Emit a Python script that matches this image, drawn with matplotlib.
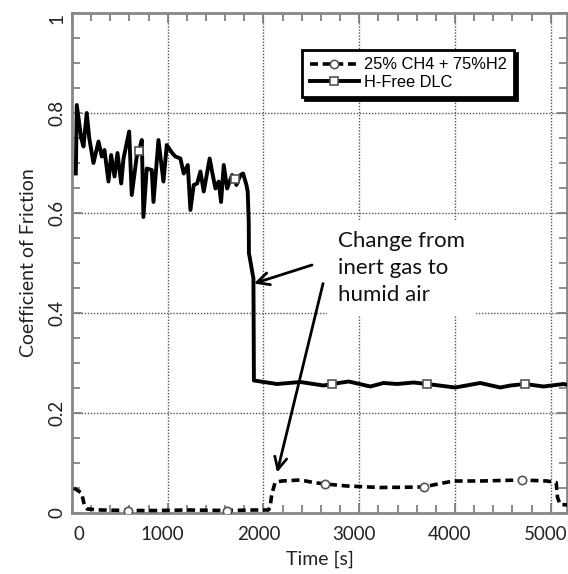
import matplotlib.pyplot as plt
import matplotlib.transforms as mtransforms
from matplotlib.ticker import MultipleLocator

# H-Free DLC (solid line, square markers)
dlc_t = [40, 50, 96, 120, 154, 180, 224, 277, 311, 339, 381, 409, 444, 475,
         514, 538, 597, 624, 676, 700, 729, 746, 781, 833, 851, 903, 955, 990,
         1046, 1080, 1132, 1167, 1209, 1237, 1271, 1307, 1341, 1376, 1438,
         1463, 1498, 1532, 1557, 1585, 1620, 1672, 1700, 1717, 1759, 1787,
         1822, 1835, 1846, 1848, 1895, 1900, 2142, 2385, 2625, 2716, 2890,
         3116, 3254, 3395, 3568, 3707, 4003, 4264, 4473, 4580, 4734, 4925,
         5134, 5180]
dlc_cof = [0.679, 0.816, 0.750, 0.733, 0.800, 0.750, 0.700, 0.743, 0.713,
           0.726, 0.663, 0.716, 0.673, 0.720, 0.659, 0.709, 0.763, 0.636,
           0.713, 0.725, 0.746, 0.592, 0.689, 0.686, 0.622, 0.746, 0.663,
           0.736, 0.720, 0.713, 0.709, 0.679, 0.696, 0.606, 0.656, 0.659,
           0.683, 0.643, 0.709, 0.683, 0.649, 0.663, 0.622, 0.696, 0.649,
           0.676, 0.668, 0.656, 0.676, 0.679, 0.656, 0.643, 0.582, 0.520,
           0.469, 0.265, 0.258, 0.262, 0.255, 0.258, 0.263, 0.253, 0.260,
           0.258, 0.261, 0.258, 0.251, 0.260, 0.251, 0.255, 0.258, 0.253,
           0.258, 0.256]
dlc_marks = [700, 1700, 2716, 3707, 4734]

# 25% CH4 + 75% H2 (dashed line, circle markers)
ch4_t = [20, 100, 130, 160, 300, 590, 900, 1200, 1624, 1900, 2050, 2069,
         2086, 2121, 2190, 2385, 2524, 2646, 2873, 3220, 3672, 3846, 3985,
         4264, 4699, 4960, 5057, 5071, 5099, 5183]
ch4_cof = [0.050, 0.040, 0.015, 0.008, 0.006, 0.005, 0.005, 0.006, 0.005,
           0.006, 0.006, 0.011, 0.037, 0.061, 0.064, 0.066, 0.061, 0.058,
           0.054, 0.051, 0.052, 0.059, 0.064, 0.064, 0.066, 0.064, 0.061,
           0.031, 0.017, 0.016]
ch4_marks = [590, 1624, 2646, 3672, 4699]

xticks = [0, 1000, 2000, 3000, 4000, 5000]
yticks = [0, 0.2, 0.4, 0.6, 0.8, 1]

plt.rcParams['font.family'] = ['Lato', 'DejaVu Sans']

fig = plt.figure(figsize=(5.68, 5.74), dpi=100)
ax = fig.add_axes([72 / 568, 61 / 574, 495 / 568, 500 / 574])

ax.plot(ch4_t, ch4_cof, color='black', lw=2.6, ls=(0, (2.2, 1.3)),
        marker='o', ms=6, mfc='white', mec='#555555', mew=1.2,
        markevery=[ch4_t.index(m) for m in ch4_marks],
        label='25% CH4 + 75%H2', zorder=3)
ax.plot(dlc_t, dlc_cof, color='black', lw=2.8, ls='-',
        marker='s', ms=6, mfc='white', mec='#555555', mew=1.2,
        markevery=[dlc_t.index(m) for m in dlc_marks],
        label='H-Free DLC', zorder=3)

ax.set_xlim(0, 5170)
ax.set_ylim(0, 1)
ax.set_xticks(xticks)
ax.set_yticks(yticks)
ax.set_yticklabels([f'{v:g}' for v in yticks], rotation=90, va='center')
ax.xaxis.set_minor_locator(MultipleLocator(200))
ax.yaxis.set_minor_locator(MultipleLocator(0.05))
ax.tick_params(which='both', direction='in', top=True, right=True,
               color='#777777', width=1.2, labelsize=13.5, labelcolor='#222222')
ax.tick_params(which='major', length=7)
ax.tick_params(which='minor', length=6)
ax.tick_params(axis='y', pad=5)
ax.tick_params(axis='x', pad=9)
xlabs = ax.get_xticklabels()
shift = mtransforms.ScaledTranslation(-5 / 100, 0, fig.dpi_scale_trans)
nudge = mtransforms.ScaledTranslation(2 / 100, 0, fig.dpi_scale_trans)
for lab in xlabs[1:]:
    lab.set_transform(lab.get_transform() + shift)
xlabs[0].set_horizontalalignment('left')
xlabs[0].set_transform(xlabs[0].get_transform() + nudge)
ax.get_yticklabels()[-1].set_verticalalignment('top')
for s in ax.spines.values():
    s.set_color('#888888')
    s.set_linewidth(2)
ax.grid(True, which='major', ls=(0, (1, 1.2)), color='#555555', lw=1)

ax.set_xlabel('Time [s]', fontsize=14, color='#222222', labelpad=6)
ax.set_ylabel('Coefficient of Friction', fontsize=14, color='#222222', labelpad=8)

leg = ax.legend(loc='upper left', bbox_to_anchor=(0.465, 0.926),
                borderaxespad=0, fancybox=False, handlelength=3.0,
                prop={'family': 'Liberation Sans', 'size': 11.8},
                labelspacing=0.15, borderpad=0.45, handletextpad=0.3,
                shadow={'color': 'black', 'alpha': 1})
leg.get_frame().set_edgecolor('black')
leg.get_frame().set_linewidth(2)

ax.text(2782, 0.490, 'Change from\ninert gas to\nhumid air', fontsize=16,
        ha='left', va='center', linespacing=1.42, color='#111111',
        bbox=dict(facecolor='white', edgecolor='none', pad=8), zorder=4)
ax.annotate('', xy=(1900, 0.459), xytext=(2507, 0.496),
            arrowprops=dict(arrowstyle='->', lw=2, color='black',
                            mutation_scale=22, shrinkA=0, shrinkB=0), zorder=5)
ax.annotate('', xy=(2142, 0.081), xytext=(2622, 0.459),
            arrowprops=dict(arrowstyle='->', lw=2, color='black',
                            mutation_scale=22, shrinkA=0, shrinkB=0), zorder=5)

fig.savefig('out.png', dpi=100)
